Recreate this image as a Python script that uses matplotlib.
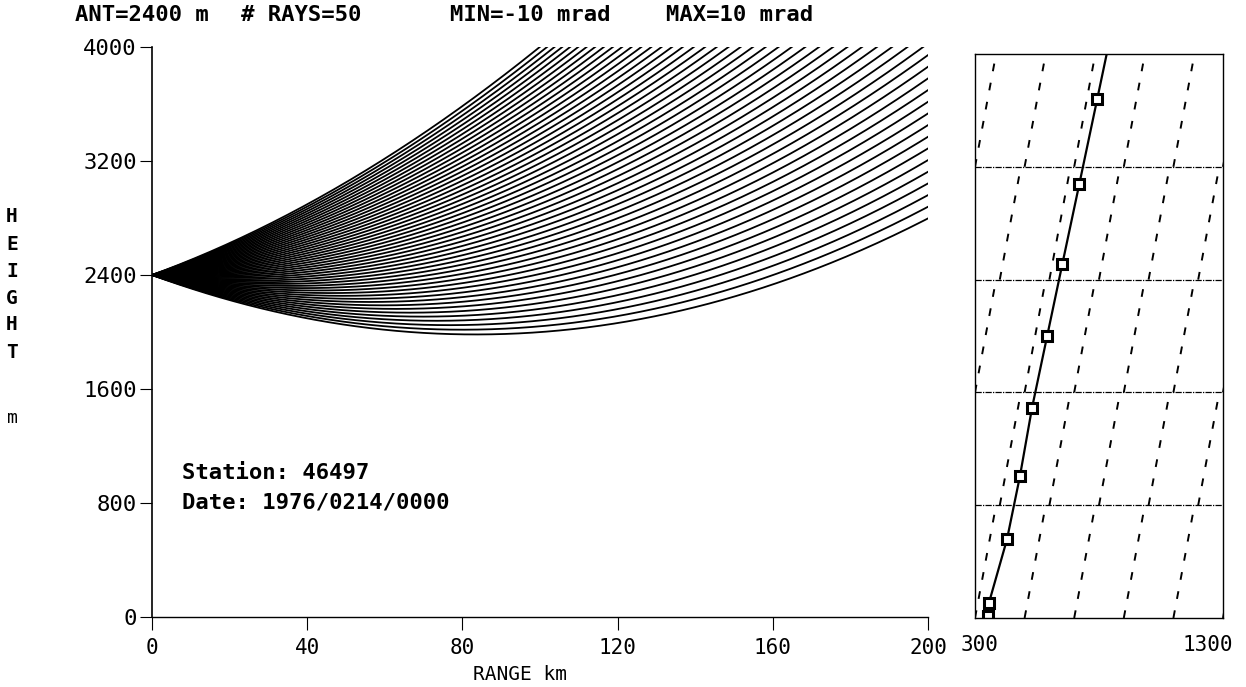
import numpy as np
import matplotlib
matplotlib.use("Agg")
import matplotlib.pyplot as plt

# -----------------------------
# Ray set-up (from the title line)
# -----------------------------
ant_height = 2400      # m
n_rays = 50
elev_min = -10.0       # mrad
elev_max = 10.0        # mrad

# -----------------------------
# Modified refractivity profile (squares on the right panel)
# -----------------------------
prof_height = [14, 106, 558, 1004, 1491, 2000, 2509, 3081, 3682, 4000]
prof_m = [352, 356, 429, 481, 530, 591, 652, 721, 793, 831]

# dashed reference lines in the right panel, restarted in every 800 m band
band_edges = [0, 800, 1600, 2400, 3200, 4000]
ref_start_a = [300, 500, 700, 900, 1100, 1300]
ref_start_b = [400, 600, 800, 1000, 1200]
ref_rise = 85          # M units per band

range_ticks = [0, 40, 80, 120, 160, 200]
height_ticks = [0, 800, 1600, 2400, 3200, 4000]

station = "46497"
date_str = "1976/0214/0000"

FONT = "DejaVu Sans Mono"
W, H = 1246, 687


def fx(px):
    return px / W


def fy(py):
    return 1 - py / H


# -----------------------------
# Trace rays through the profile (x in km, h in m)
# -----------------------------
ph = np.array(prof_height, float)
pm = np.array(prof_m, float)
grad = np.diff(pm) / np.diff(ph)     # dM/dh per segment


def dmdh(h):
    i = np.clip(np.searchsorted(ph, h) - 1, 0, len(grad) - 1)
    return grad[i]


dx = 0.5
xs = np.arange(0, 200 + dx, dx)
rays = []
for th0 in np.linspace(elev_min, elev_max, n_rays):
    h, th = float(ant_height), th0
    hs = [h]
    for _ in xs[1:]:
        g = dmdh(h)
        h = h + th * dx + 0.5 * g * dx * dx
        th = th + g * dx
        hs.append(h)
    rays.append(np.array(hs))

# -----------------------------
# Figure
# -----------------------------
fig = plt.figure(figsize=(W / 100, H / 100), dpi=100)
fig.patch.set_facecolor("white")

top_l, bot_l = 47, 617
ax = fig.add_axes([fx(152), fy(bot_l), fx(928) - fx(152), (bot_l - top_l) / H])
for hs in rays:
    ax.plot(xs, hs, color="black", lw=1.3)

ax.set_xlim(0, 200)
ax.set_ylim(0, 4000)
ax.spines["top"].set_visible(False)
ax.spines["right"].set_visible(False)
ax.spines["left"].set_linewidth(1.2)
ax.spines["bottom"].set_linewidth(1.0)
ax.spines["bottom"].set_linestyle((0, (2, 1)))
ax.set_xticks(range_ticks)
ax.set_xticklabels([str(v) for v in range_ticks], fontfamily=FONT, fontsize=15)
ax.set_yticks(height_ticks)
ax.set_yticklabels([str(v) for v in height_ticks], fontfamily=FONT, fontsize=16)
ax.tick_params(axis="both", direction="out", length=9, width=0.8, color="black")
ax.tick_params(axis="x", pad=6)
ax.tick_params(axis="y", pad=2)

fig.text(fx(520), fy(675), "RANGE km", fontfamily=FONT, fontsize=14,
         ha="center", va="center")

for i, ch in enumerate("HEIGHT"):
    fig.text(fx(12), fy(217 + i * 27), ch, fontfamily=FONT, fontsize=14,
             fontweight="bold", ha="center", va="center")
fig.text(fx(12), fy(418), "m", fontfamily=FONT, fontsize=13,
         ha="center", va="center")

# title pieces
for px, s in [(75, "ANT=2400 m"), (241, "# RAYS=50"),
              (450, "MIN=-10 mrad"), (666, "MAX=10 mrad")]:
    fig.text(fx(px), fy(15), s, fontfamily=FONT, fontsize=16,
             fontweight="bold", ha="left", va="center")

fig.text(fx(182), fy(473), f"Station: {station}", fontfamily=FONT,
         fontsize=16, fontweight="bold", ha="left", va="center")
fig.text(fx(182), fy(503), f"Date: {date_str}", fontfamily=FONT,
         fontsize=16, fontweight="bold", ha="left", va="center")

# -----------------------------
# Right panel: M profile
# -----------------------------
top_r, bot_r = 54, 618
ax2 = fig.add_axes([fx(975), fy(bot_r), fx(1223) - fx(975), (bot_r - top_r) / H])
ax2.set_xlim(300, 1300)
ax2.set_ylim(0, 4000)
for sp in ax2.spines.values():
    sp.set_linewidth(1.0)
    sp.set_linestyle((0, (5, 1, 1, 1)))
ax2.set_xticks([])
ax2.set_yticks([])

for hgt in band_edges[1:-1]:
    ax2.axhline(hgt, color="black", lw=0.9, ls=(0, (5, 1, 1, 1)))

for k in range(len(band_edges) - 1):
    lo, hi = band_edges[k], band_edges[k + 1]
    starts = ref_start_a if k % 2 == 0 else ref_start_b
    for m0 in starts:
        ax2.plot([m0, m0 + ref_rise], [lo, hi], color="black", lw=1.4,
                 ls=(0, (4, 6)))

ax2.plot(prof_m, prof_height, color="black", lw=1.6)
ax2.plot(prof_m[:-1], prof_height[:-1], ls="none", marker="s", ms=7,
         mfc="white", mec="black", mew=2.2)

fig.text(fx(980), fy(645), "300", fontfamily=FONT, fontsize=15,
         ha="center", va="center")
fig.text(fx(1208), fy(645), "1300", fontfamily=FONT, fontsize=15,
         ha="center", va="center")

fig.savefig("out.png", dpi=100, facecolor="white")
